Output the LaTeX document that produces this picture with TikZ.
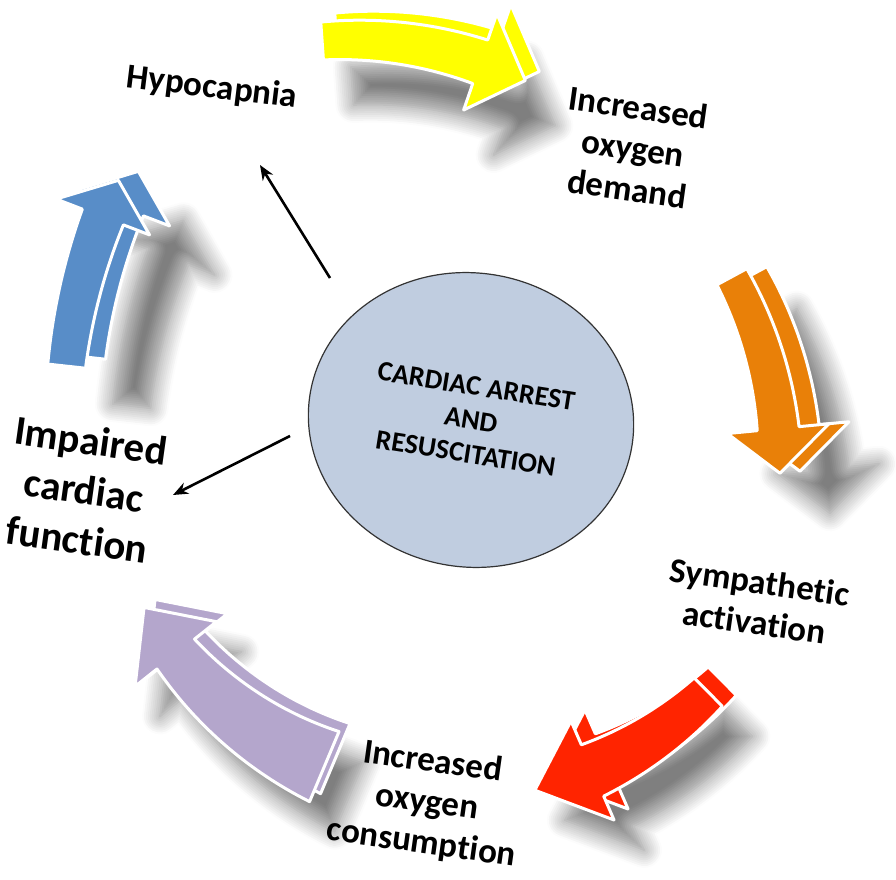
\documentclass[tikz,border=0pt]{standalone}
\usepackage{fontspec}
\setmainfont{Carlito}[Ligatures=NoCommon]
\usetikzlibrary{shapes.geometric, arrows.meta, shadows.blur}
\definecolor{arrowyellow}{RGB}{255,255,0}
\definecolor{arroworange}{RGB}{233,128,8}
\definecolor{arrowred}{RGB}{255,36,0}
\definecolor{arrowlilac}{RGB}{180,166,204}
\definecolor{arrowblue}{RGB}{88,141,200}
\definecolor{corefill}{RGB}{192,205,224}
\tikzset{
  face/.style={draw=white,line width=3pt,line join=round},
  softshadow/.style={blur shadow={shadow blur radius=18pt,shadow blur steps=10,shadow opacity=50,#1}},
  arrowyellow side/.style={xshift=14pt,yshift=9pt},
  arrowyellow shadow/.style={softshadow={shadow xshift=30pt,shadow yshift=-45pt}},
  arroworange side/.style={xshift=20pt,yshift=2pt},
  arroworange shadow/.style={softshadow={shadow xshift=50pt,shadow yshift=-40pt}},
  arrowred side/.style={xshift=14pt,yshift=11pt},
  arrowred shadow/.style={softshadow={shadow xshift=30pt,shadow yshift=-30pt}},
  arrowlilac side/.style={xshift=11pt,yshift=8pt},
  arrowlilac shadow/.style={softshadow={shadow xshift=25pt,shadow yshift=-30pt}},
  arrowblue side/.style={xshift=20pt,yshift=9pt},
  arrowblue shadow/.style={softshadow={shadow xshift=65pt,shadow yshift=-40pt}},
  core/.style={ellipse,draw=black!80,line width=1.2pt,fill=corefill,minimum width=326pt,minimum height=294pt,inner sep=0pt,align=center,font=\bfseries\fontsize{28}{34}\selectfont},
  stagetext/.style={font=\bfseries\fontsize{35}{41}\selectfont,align=center,inner sep=0pt},
  bigstagetext/.style={stagetext,font=\bfseries\fontsize{41}{50}\selectfont},
  pointer/.style={-{Stealth[length=15pt,width=12pt]},line width=2.6pt},
}
% radius, tail angle, base angle, tip angle, tail half width, head half width, barb
\newcommand{\ringpath}[7]{%
  plot[domain=#2:#3,samples=30,variable=\ang] (\ang:{#1+#5+(#6-#5)*(\ang-(#2))/((#3)-(#2))})
  -- (#3:{#1+#6+#7}) -- (#4:#1) -- (#3:{#1-#6-#7})
  -- plot[domain=#3:#2,samples=30,variable=\ang] (\ang:{#1-#5-(#6-#5)*(\ang-(#2))/((#3)-(#2))})
  -- cycle}
% centre, geometry, colour
\newcommand{\ringarrow}[9]{%
  \path[shift={#1},#9 shadow] \ringpath{#2}{#3}{#4}{#5}{#6}{#7}{#8};
  \path[shift={#1},face,fill=#9,#9 side] \ringpath{#2}{#3}{#4}{#5}{#6}{#7}{#8};
  \path[shift={#1},face,fill=#9] \ringpath{#2}{#3}{#4}{#5}{#6}{#7}{#8};}
\begin{document}
\begin{tikzpicture}[x=1pt,y=1pt]
  \useasboundingbox (0,0) rectangle (896,879);
  % the cycle
  \ringarrow{(350,439)}{400}{94}{71}{64}{19}{23}{28}{arrowyellow}
  \ringarrow{(380,412)}{400}{28.4}{5.5}{-0.9}{17}{21}{30}{arroworange}
  \ringarrow{(441,457)}{380}{-45.3}{-66.5}{-75.7}{20}{28}{26}{arrowred}
  \ringarrow{(470,459)}{376}{-112.8}{-141.5}{-150.1}{38}{24}{28}{arrowlilac}
  \ringarrow{(663,447)}{600}{173.7}{159}{155.2}{19}{22}{28}{arrowblue}
  % centre
  \node[core,rotate=-9] (core) at (471,459) {CARDIAC ARREST\\AND\\RESUSCITATION};
  % stages
  \node[stagetext,rotate=-7] (hypo) at (212,791) {Hypocapnia};
  \node[stagetext,rotate=-8] (demand) at (633,731) {Increased\\oxygen\\demand};
  \node[stagetext,rotate=-8] (symp) at (757,277) {Sympathetic\\activation};
  \node[stagetext,rotate=-8] (consum) at (427,76) {Increased\\oxygen\\consumption};
  \node[bigstagetext,rotate=-8] (impair) at (84,389) {Impaired\\cardiac\\function};
  % pointers out of the centre
  \coordinate (hypo tail) at (330,601);
  \coordinate (hypo head) at (260,714);
  \coordinate (impair tail) at (290,443);
  \coordinate (impair head) at (173,384);
  \draw[pointer] (hypo tail) -- (hypo head);
  \draw[pointer] (impair tail) -- (impair head);
\end{tikzpicture}
\end{document}
